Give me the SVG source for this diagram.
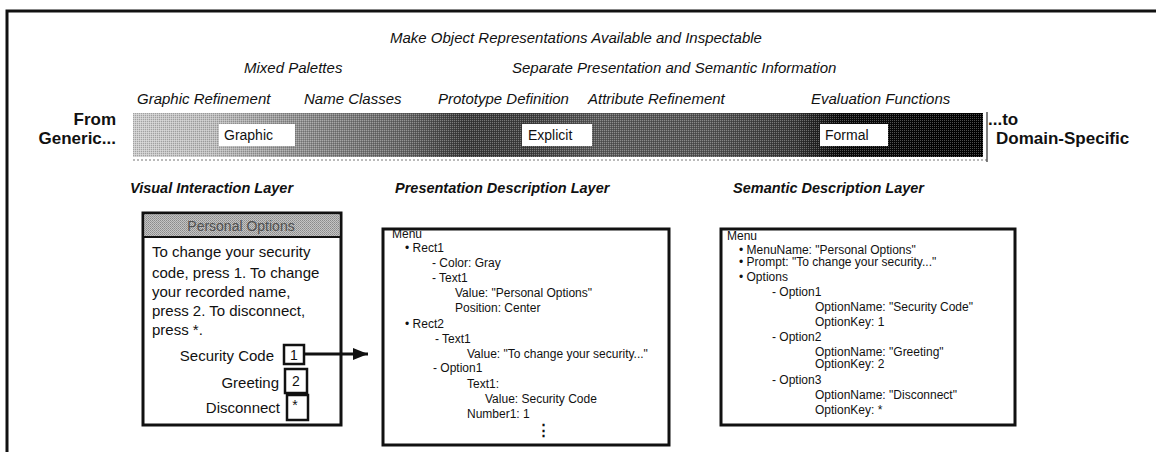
<svg xmlns="http://www.w3.org/2000/svg" width="1156" height="452" viewBox="0 0 1156 452">
<defs>
<linearGradient id="barGrad" x1="133" y1="0" x2="983" y2="0" gradientUnits="userSpaceOnUse">
<stop offset="0" stop-color="#cccccc"/>
<stop offset="0.09" stop-color="#c0c0c0"/>
<stop offset="0.2" stop-color="#8e8e8e"/>
<stop offset="0.32" stop-color="#666"/>
<stop offset="0.39" stop-color="#3a3a3a"/>
<stop offset="0.47" stop-color="#404040"/>
<stop offset="0.55" stop-color="#5c5c5c"/>
<stop offset="0.68" stop-color="#555"/>
<stop offset="0.78" stop-color="#383838"/>
<stop offset="0.83" stop-color="#0a0a0a"/>
<stop offset="1" stop-color="#000"/>
</linearGradient>
<pattern id="dither" width="2" height="2" patternUnits="userSpaceOnUse">
<rect width="1" height="1" fill="#fff" fill-opacity="0.3"/>
<rect x="1" y="1" width="1" height="1" fill="#000" fill-opacity="0.2"/>
</pattern>
<pattern id="hdr" width="2" height="2" patternUnits="userSpaceOnUse">
<rect width="2" height="2" fill="#c4c4c4"/>
<rect width="1" height="1" fill="#8a8a8a"/>
<rect x="1" y="1" width="1" height="1" fill="#9a9a9a"/>
</pattern>
<marker id="ah" markerWidth="15" markerHeight="12" refX="15" refY="6" orient="auto" markerUnits="userSpaceOnUse">
<path d="M0,0 L15,6 L0,12 z" fill="#111"/>
</marker>
</defs>
<style>
text{font-family:"Liberation Sans",Arial,Helvetica,sans-serif;fill:#111}
.it{font-style:italic;font-size:15px}
.layer{font-style:italic;font-weight:bold;font-size:14.5px}
.end{font-weight:bold;font-size:17px}
.lbl{font-size:14px}
.body{font-size:15px}
.desc{font-size:12px}
.sm{font-size:12px}
.frame{fill:none;stroke:#111;stroke-width:3}
.box{fill:#fff;stroke:#111;stroke-width:3}
.tag{fill:#fff;stroke:none}
.key{fill:#fff;stroke:#111;stroke-width:2.5}
</style>
<rect width="1156" height="452" fill="#fff"/>
<path class="frame" d="M7,452 V11 H1156"/>

<g id="principles">
<text class="it" x="390" y="43">Make Object Representations Available and Inspectable</text>
<text class="it" x="244" y="73">Mixed Palettes</text>
<text class="it" x="512" y="73">Separate Presentation and Semantic Information</text>
<text class="it" x="137" y="104">Graphic Refinement</text>
<text class="it" x="304" y="104">Name Classes</text>
<text class="it" x="438" y="104">Prototype Definition</text>
<text class="it" x="588" y="104">Attribute Refinement</text>
<text class="it" x="811" y="104">Evaluation Functions</text>
</g>

<g id="spectrum">
<text class="end" x="116" y="125" text-anchor="end">From</text>
<text class="end" x="116" y="144" text-anchor="end">Generic...</text>
<rect x="133" y="113" width="850" height="44" fill="url(#barGrad)"/>
<rect x="133" y="113" width="850" height="44" fill="url(#dither)"/>
<line x1="133" y1="160" x2="987" y2="160" stroke="#777" stroke-width="1" stroke-dasharray="2,2"/>
<line x1="987" y1="112" x2="987" y2="162" stroke="#555" stroke-width="1.5"/>
<text class="end" x="988" y="125">...to</text>
<text class="end" x="996" y="144">Domain-Specific</text>
</g>

<g id="tag-graphic">
<rect class="tag" x="219" y="124" width="76" height="22"/>
<text class="lbl" x="224" y="140">Graphic</text>
</g>
<g id="tag-explicit">
<rect class="tag" x="522" y="124" width="70" height="22"/>
<text class="lbl" x="528" y="140">Explicit</text>
</g>
<g id="tag-formal">
<rect class="tag" x="820" y="124" width="68" height="22"/>
<text class="lbl" x="825" y="140">Formal</text>
</g>

<g id="visual-layer">
<text class="layer" x="130" y="193">Visual Interaction Layer</text>
<rect class="box" x="143" y="213" width="198" height="212"/>
<rect x="144.5" y="214.5" width="195" height="22" fill="url(#hdr)"/>
<line x1="143" y1="237" x2="341" y2="237" stroke="#111" stroke-width="2"/>
<text x="241" y="231" text-anchor="middle" font-size="14" style="fill:#505050">Personal Options</text>
<text class="body" x="152" y="257">To change your security</text>
<text class="body" x="152" y="278">code, press 1. To change</text>
<text class="body" x="152" y="297">your recorded name,</text>
<text class="body" x="152" y="316">press 2. To disconnect,</text>
<text class="body" x="152" y="335">press *.</text>
<text class="body" x="274" y="361" text-anchor="end">Security Code</text>
<rect class="key" x="284" y="345" width="20" height="19"/>
<text class="lbl" x="294" y="360" text-anchor="middle">1</text>
<text class="body" x="279" y="388" text-anchor="end">Greeting</text>
<rect class="key" x="285" y="369" width="22" height="24"/>
<text class="lbl" x="296" y="386" text-anchor="middle">2</text>
<text class="body" x="280" y="413" text-anchor="end">Disconnect</text>
<rect class="key" x="287" y="395" width="21" height="25"/>
<text class="lbl" x="295" y="410" text-anchor="middle">*</text>
</g>

<g id="presentation-layer">
<text class="layer" x="395" y="193">Presentation Description Layer</text>
<rect class="box" x="383" y="229" width="286" height="216"/>
<text class="desc" x="392" y="238">Menu</text>
<text class="desc" x="405" y="252">• Rect1</text>
<text class="desc" x="432" y="267">- Color: Gray</text>
<text class="desc" x="432" y="282">- Text1</text>
<text class="desc" x="455" y="297">Value: "Personal Options"</text>
<text class="desc" x="455" y="312">Position: Center</text>
<text class="desc" x="405" y="328">• Rect2</text>
<text class="desc" x="435" y="343">- Text1</text>
<text class="desc" x="467" y="358">Value: "To change your security..."</text>
<text class="desc" x="433" y="372">- Option1</text>
<text class="desc" x="467" y="388">Text1:</text>
<text class="desc" x="485" y="403">Value: Security Code</text>
<text class="desc" x="467" y="418">Number1: 1</text>
<text x="543" y="435" text-anchor="middle" font-size="15" font-weight="bold">⋮</text>
</g>

<g id="semantic-layer">
<text class="layer" x="733" y="193">Semantic Description Layer</text>
<rect class="box" x="721" y="229" width="294" height="196"/>
<text class="sm" x="727" y="240" font-size="11">Menu</text>
<text class="sm" x="739" y="254">• MenuName: "Personal Options"</text>
<text class="sm" x="739" y="266">• Prompt: "To change your security..."</text>
<text class="sm" x="739" y="281">• Options</text>
<text class="sm" x="772" y="296">- Option1</text>
<text class="sm" x="815" y="311">OptionName: "Security Code"</text>
<text class="sm" x="815" y="326">OptionKey: 1</text>
<text class="sm" x="772" y="341">- Option2</text>
<text class="sm" x="815" y="356">OptionName: "Greeting"</text>
<text class="sm" x="815" y="368">OptionKey: 2</text>
<text class="sm" x="772" y="384">- Option3</text>
<text class="sm" x="815" y="399">OptionName: "Disconnect"</text>
<text class="sm" x="815" y="414">OptionKey: *</text>
</g>

<g id="connectors">
<line x1="304" y1="354" x2="368" y2="354" stroke="#111" stroke-width="3" marker-end="url(#ah)"/>
</g>
</svg>
